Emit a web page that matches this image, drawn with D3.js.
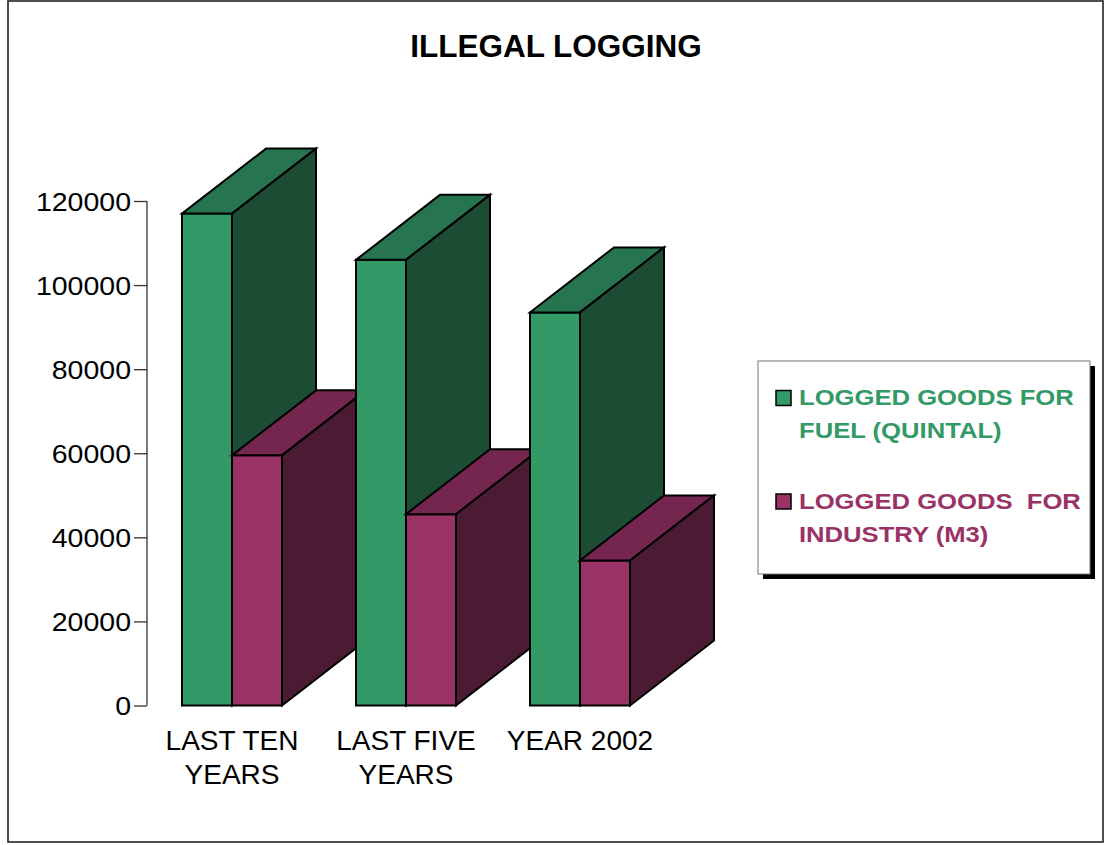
<!DOCTYPE html>
<html><head><meta charset="utf-8">
<script src="https://cdn.jsdelivr.net/npm/d3@7"></script>
<style>body{margin:0;background:#fff}svg text{font-family:"Liberation Sans",Arial,sans-serif;white-space:pre}</style>
</head><body>
<svg id="chart" width="1111" height="845"></svg>
<script>
// ---- data ----
const categories = ["LAST TEN YEARS", "LAST FIVE YEARS", "YEAR 2002"];
const categoryLines = [["LAST TEN", "YEARS"], ["LAST FIVE", "YEARS"], ["YEAR 2002"]];
const seriesKeys = ["fuel", "industry"];
const fuelValues = [117000, 106000, 93500];
const industryValues = [59500, 45500, 34500];
const yTicks = [0, 20000, 40000, 60000, 80000, 100000, 120000];
const legendLines = [["LOGGED GOODS FOR", "FUEL (QUINTAL)"], ["LOGGED GOODS  FOR", "INDUSTRY (M3)"]];
const titleText = "ILLEGAL LOGGING";

// ---- styles ----
const colors = {
  fuel: {front: "#339966", top: "#277451", side: "#1d4c34"},
  industry: {front: "#993366", top: "#74264f", side: "#4b1b34"}
};
const DX = 84, DY = -65;

const svg = d3.select("#chart");

// outer border
svg.append("rect").attr("x", 8).attr("y", 1).attr("width", 1095).attr("height", 841)
  .attr("fill", "#fff").attr("stroke", "#222").attr("stroke-width", 1.6);

// title
svg.append("text").attr("x", 556).attr("y", 57).attr("text-anchor", "middle")
  .attr("font-size", 31.5).attr("font-weight", "bold").attr("fill", "#000").text(titleText);

// scales
const y = d3.scaleLinear().domain([0, 120000]).range([705.5, 201]);
const x0 = d3.scaleBand().domain(categories).range([145, 667]).paddingInner(74 / 174).paddingOuter(37 / 174);
const x1 = d3.scaleBand().domain(seriesKeys).range([0, x0.bandwidth()]);

// y axis
const yAxis = d3.axisLeft(y).tickValues(yTicks).tickSize(13).tickPadding(4).tickFormat(d3.format("d"));
const ag = svg.append("g").attr("transform", "translate(147,0)").call(yAxis);
ag.select(".domain").attr("stroke", "#333").attr("stroke-width", 1.3).attr("d", `M-0,${y(120000)}V${y(0)}`);
ag.selectAll(".tick line").attr("stroke", "#333").attr("stroke-width", 1.3);
ag.selectAll(".tick text").attr("x", null).attr("dy", null).attr("fill", "#000")
  .attr("font-size", 25).attr("font-family", "Liberation Sans, Arial, sans-serif")
  .attr("transform", "translate(-16,9) scale(1.14,1)");

// bars
const rows = categories.map((c, i) => ({cat: c, fuel: fuelValues[i], industry: industryValues[i]}));
const barsG = svg.append("g");
rows.forEach(r => {
  seriesKeys.forEach(k => {
    const xl = x0(r.cat) + x1(k), w = x1.bandwidth();
    const xr = xl + w, yt = y(r[k]), yb = y(0);
    const g = barsG.append("g").attr("stroke", "#000").attr("stroke-width", 2).attr("stroke-linejoin", "miter");
    g.append("polygon").attr("fill", colors[k].front)
      .attr("points", [[xl, yb], [xr, yb], [xr, yt], [xl, yt]].join(" "));
    g.append("polygon").attr("fill", colors[k].top)
      .attr("points", [[xl, yt], [xr, yt], [xr + DX, yt + DY], [xl + DX, yt + DY]].join(" "));
    g.append("polygon").attr("fill", colors[k].side)
      .attr("points", [[xr, yb], [xr + DX, yb + DY], [xr + DX, yt + DY], [xr, yt]].join(" "));
  });
});

// category labels
categories.forEach((c, i) => {
  const cx = x0(c) + x0.bandwidth() / 2;
  const t = svg.append("text").attr("text-anchor", "middle").attr("font-size", 28).attr("fill", "#000");
  categoryLines[i].forEach((ln, j) => {
    t.append("tspan").attr("x", cx).attr("y", 750 + j * 34).text(ln);
  });
});

// legend
const lg = svg.append("g");
lg.append("rect").attr("x", 763).attr("y", 366).attr("width", 332).attr("height", 213).attr("fill", "#000");
lg.append("rect").attr("x", 758).attr("y", 361).attr("width", 332).attr("height", 213)
  .attr("fill", "#fff").attr("stroke", "#777").attr("stroke-width", 1);
const legendBase = [405, 508.5];
seriesKeys.forEach((k, i) => {
  const by = legendBase[i];
  lg.append("rect").attr("x", 776).attr("y", by - 14.5).attr("width", 15).attr("height", 15)
    .attr("fill", colors[k].front).attr("stroke", "#000").attr("stroke-width", 1.5);
  legendLines[i].forEach((ln, j) => {
    lg.append("text").attr("transform", `translate(799,${by + j * 33}) scale(1.165,1)`)
      .attr("font-size", 22).attr("font-weight", "bold").attr("fill", colors[k].front).text(ln);
  });
});
</script>
</body></html>
